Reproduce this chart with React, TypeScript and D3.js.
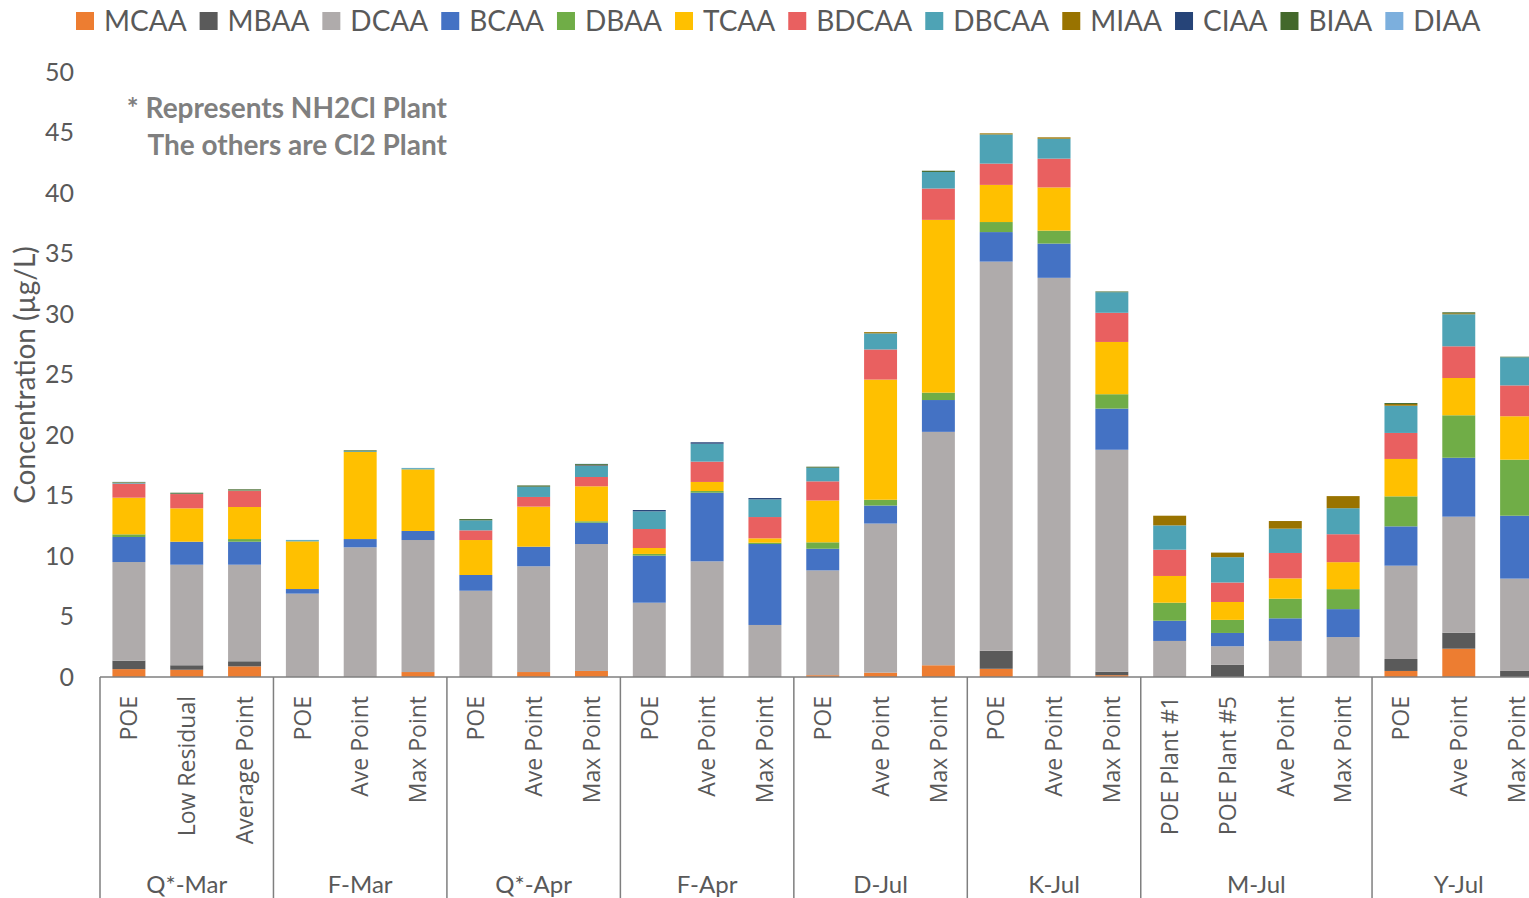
import React from "react";
import * as d3 from "d3";

const seriesNames = ["MCAA","MBAA","DCAA","BCAA","DBAA","TCAA","BDCAA","DBCAA","MIAA","CIAA","BIAA","DIAA"];
const seriesColors = ["#ED7D31","#5A5A5A","#AFABAB","#4472C4","#70AD47","#FFC000","#E96060","#4EA3B5","#997300","#264478","#43682B","#7CAFDD"];

const groups = ["Q*-Mar","F-Mar","Q*-Apr","F-Apr","D-Jul","K-Jul","M-Jul","Y-Jul"];
const groupBars = [
  ["POE","Low Residual","Average Point"],
  ["POE","Ave Point","Max Point"],
  ["POE","Ave Point","Max Point"],
  ["POE","Ave Point","Max Point"],
  ["POE","Ave Point","Max Point"],
  ["POE","Ave Point","Max Point"],
  ["POE Plant #1","POE Plant #5","Ave Point","Max Point"],
  ["POE","Ave Point","Max Point"],
];

const MCAA  = [0.65,0.6,0.88,0,0,0.41,0,0.41,0.5,0,0,0,0.15,0.36,0.97,0.68,0,0.15,0,0,0,0,0.5,2.34,0];
const MBAA  = [0.7,0.37,0.42,0,0,0,0,0,0,0,0,0,0,0,0,1.49,0,0.29,0,1.0,0,0,0.99,1.32,0.5];
const DCAA  = [8.15,8.31,7.98,6.89,10.72,10.91,7.13,8.74,10.49,6.14,9.56,4.3,8.66,12.32,19.29,32.16,32.99,18.34,2.98,1.54,2.98,3.3,7.71,9.59,7.63];
const BCAA  = [2.07,1.9,1.9,0.38,0.68,0.75,1.3,1.62,1.76,3.89,5.67,6.69,1.79,1.49,2.63,2.44,2.83,3.4,1.67,1.1,1.87,2.31,3.25,4.87,5.2];
const DBAA  = [0.22,0,0.22,0,0,0,0,0,0.12,0.14,0.14,0.11,0.53,0.48,0.61,0.83,1.07,1.19,1.49,1.08,1.62,1.65,2.48,3.51,4.63];
const TCAA  = [3.03,2.76,2.65,3.94,7.2,5.09,2.89,3.31,2.89,0.49,0.75,0.36,3.46,9.93,14.28,3.07,3.57,4.32,2.21,1.48,1.68,2.23,3.09,3.08,3.59];
const BDCAA = [1.16,1.18,1.32,0,0,0,0.8,0.8,0.77,1.57,1.68,1.76,1.58,2.49,2.59,1.76,2.38,2.41,2.17,1.61,2.1,2.31,2.15,2.62,2.55];
const DBCAA = [0.06,0.03,0.05,0.1,0.06,0.1,0.83,0.85,0.91,1.46,1.48,1.46,1.13,1.33,1.37,2.41,1.65,1.7,2.01,2.09,2.01,2.15,2.25,2.65,2.32];
const MIAA  = [0.03,0,0.03,0,0,0,0,0,0.04,0,0,0,0,0.1,0,0.09,0.11,0,0.8,0.38,0.63,1.0,0.14,0.08,0];
const CIAA  = [0,0,0,0,0,0,0,0,0.05,0.11,0.12,0.11,0,0,0,0,0,0,0,0,0,0,0,0,0];
const BIAA  = [0.04,0.08,0.06,0,0.07,0,0.1,0.1,0.07,0,0,0,0.08,0,0.1,0,0,0.06,0,0,0,0,0.08,0.08,0.05];
const DIAA  = [0.02,0,0,0.02,0,0.02,0,0,0.02,0,0,0,0,0,0,0,0,0,0,0,0,0,0,0,0];

const seriesValues = [MCAA,MBAA,DCAA,BCAA,DBAA,TCAA,BDCAA,DBCAA,MIAA,CIAA,BIAA,DIAA];
const yTicks = [0,5,10,15,20,25,30,35,40,45,50];
const yTitle = "Concentration (µg/L)";
const noteLines = ["* Represents NH2Cl Plant", "The others are Cl2 Plant"];

const W = 1529, H = 898;
const textGray = "#595959";

export default function App() {
  const bars = groupBars.flatMap((labels, gi) => labels.map((label) => ({ label, gi })));
  const rows = bars.map((b, i) => {
    const r: any = { id: i };
    seriesNames.forEach((s, si) => (r[s] = seriesValues[si][i]));
    return r;
  });
  const stacked = d3.stack<any>().keys(seriesNames)(rows);

  const x0 = 100, step = 57.82;
  const x = d3.scaleBand<number>()
    .domain(bars.map((_, i) => i))
    .range([x0, x0 + step * bars.length])
    .paddingInner(0.43)
    .paddingOuter(0.215);
  const y = d3.scaleLinear().domain([0, 50]).range([677, 72]);

  const boundaries: number[] = [];
  let acc = 0;
  boundaries.push(x0);
  groupBars.forEach((g) => { acc += g.length; boundaries.push(x0 + acc * x.step()); });

  const legendFont = 28;
  const canvas = document.createElement("canvas");
  const ctx = canvas.getContext("2d")!;
  ctx.font = `${legendFont}px Lato`;
  let lx = 76;
  const legendItems = seriesNames.map((s, i) => {
    const item = { s, color: seriesColors[i], x: lx };
    lx += 18 + 10 + ctx.measureText(s).width + 13;
    return item;
  });

  return (
    <svg width={W} height={H} style={{ position: "absolute", left: 0, top: 0, background: "#fff" }}
      fontFamily="Lato, 'Open Sans', sans-serif">
      {legendItems.map((it) => (
        <g key={it.s}>
          <rect x={it.x} y={12} width={18} height={18} fill={it.color} />
          <text x={it.x + 28} y={30.5} fontSize={legendFont} fill={textGray}>{it.s}</text>
        </g>
      ))}

      {yTicks.map((t) => (
        <text key={t} x={74} y={y(t)} dy="0.35em" textAnchor="end" fontSize={25} fill={textGray}>{t}</text>
      ))}
      <text transform={`translate(35,375) rotate(-90)`} textAnchor="middle" fontSize={28} fill={textGray}>{yTitle}</text>

      {stacked.map((layer, si) => (
        <g key={layer.key} fill={seriesColors[si]}>
          {layer.map((d, i) => {
            const h = y(d[0]) - y(d[1]);
            if (h <= 0) return null;
            return <rect key={i} x={x(i)} y={y(d[1])} width={x.bandwidth()} height={h} />;
          })}
        </g>
      ))}

      {noteLines.map((l, i) => (
        <text key={i} x={447} y={118 + i * 37} textAnchor="end" fontSize={28} fontWeight="bold" fill="#7f7f7f">{l}</text>
      ))}

      <line x1={x0} x2={x0 + step * bars.length} y1={677} y2={677} stroke="#7f7f7f" strokeWidth={1.5} />
      {boundaries.map((bx, i) => (
        <line key={i} x1={bx} x2={bx} y1={677} y2={H} stroke="#7f7f7f" strokeWidth={1.5} />
      ))}
      {bars.map((b, i) => {
        const cx = (x(i) as number) + x.bandwidth() / 2;
        return (
          <text key={i} transform={`translate(${cx},696) rotate(-90)`} dy="0.36em" textAnchor="end"
            fontSize={23} fontFamily="'Open Sans', sans-serif" fill={textGray}>{b.label}</text>
        );
      })}
      {groups.map((g, gi) => (
        <text key={g} x={(boundaries[gi] + boundaries[gi + 1]) / 2} y={893} textAnchor="middle" fontSize={24} fill={textGray}>{g}</text>
      ))}
    </svg>
  );
}
